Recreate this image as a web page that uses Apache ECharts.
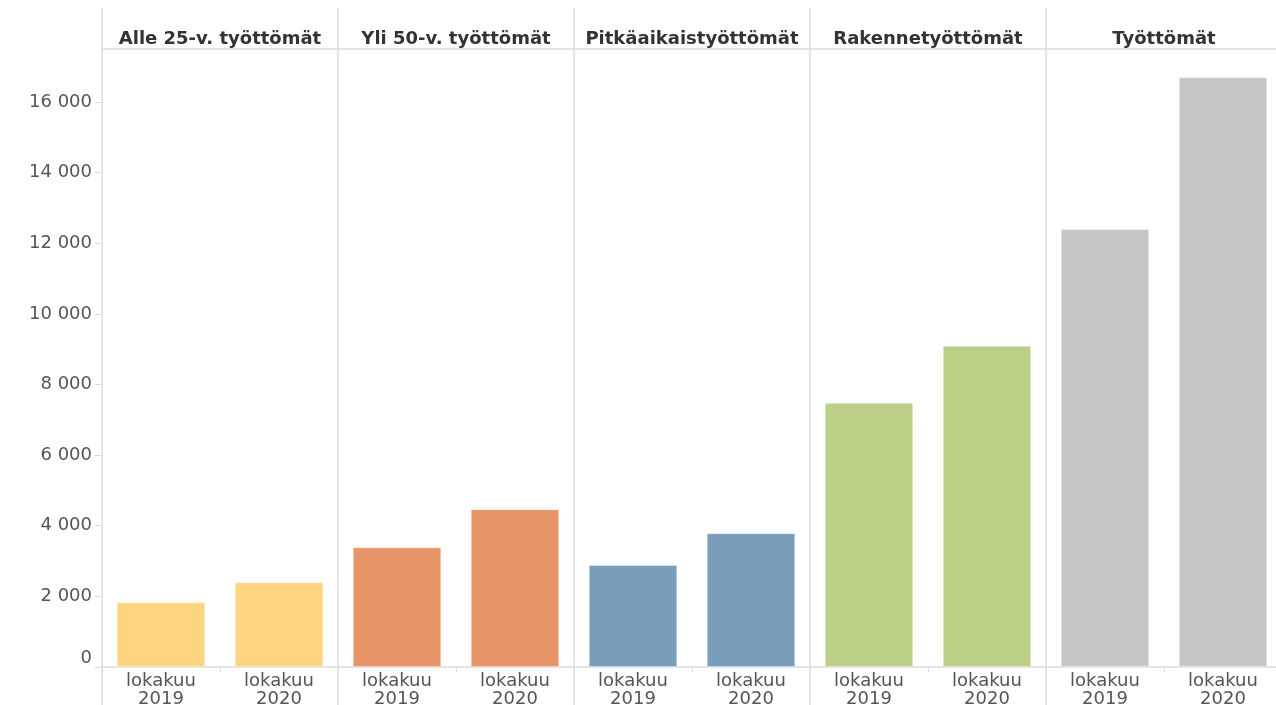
<!DOCTYPE html>
<html>
<head>
<meta charset="utf-8">
<script src="https://cdn.jsdelivr.net/npm/echarts@6/dist/echarts.min.js"></script>
<style>
  html, body { margin: 0; padding: 0; background: #fff; }
  #chart { width: 1276px; height: 705px; }
</style>
</head>
<body>
<div id="chart"></div>
<script>
// panels and periods
var panels = ['Alle 25-v. työttömät', 'Yli 50-v. työttömät', 'Pitkäaikaistyöttömät', 'Rakennetyöttömät', 'Työttömät'];
var periods = ['lokakuu\n2019', 'lokakuu\n2020'];
var values2019 = [1830, 3390, 2890, 7480, 12400];
var values2020 = [2400, 4470, 3790, 9100, 16700];
var panelColors = ['#fdd47f', '#e8956a', '#7a9eba', '#bbcf87', '#c6c6c6'];
var yTicks = [0, 2000, 4000, 6000, 8000, 10000, 12000, 14000, 16000];

var categories = [];
var barData = [];
panels.forEach(function (p, i) {
  categories.push(p + '|' + periods[0]);
  categories.push(p + '|' + periods[1]);
  barData.push({ value: values2019[i], itemStyle: { color: panelColors[i] } });
  barData.push({ value: values2020[i], itemStyle: { color: panelColors[i] } });
});

var lineColor = '#dcdcdc';
var font = 'DejaVu Sans, Liberation Sans, Arial, sans-serif';

var chart = echarts.init(document.getElementById('chart'));
chart.setOption({
  animation: false,
  grid: [
    { left: 102, right: -6, top: 49, bottom: 38, outerBoundsMode: 'none' },
    { left: 102, right: -6, top: 8, bottom: 0, outerBoundsMode: 'none' }
  ],
  xAxis: [
    {
      type: 'category',
      gridIndex: 0,
      data: categories,
      axisLine: { lineStyle: { color: lineColor, width: 1.5 } },
      axisTick: { show: true, interval: 0, length: 5, lineStyle: { color: lineColor } },
      axisLabel: {
        interval: 0,
        color: '#555',
        fontFamily: font,
        fontSize: 18,
        lineHeight: 18,
        margin: 5,
        formatter: function (v) { return v.split('|')[1]; }
      }
    },
    {
      type: 'category',
      gridIndex: 1,
      position: 'top',
      data: panels,
      axisLine: { show: false },
      axisTick: { show: false },
      axisLabel: {
        interval: 0,
        inside: true,
        margin: 22,
        color: '#333',
        fontFamily: font,
        fontWeight: 'bold',
        fontSize: 18
      },
      splitLine: { show: true, interval: 0, lineStyle: { color: lineColor, width: 1.5 } }
    },
    {
      type: 'category',
      gridIndex: 0,
      position: 'top',
      data: categories,
      axisLine: { show: true, lineStyle: { color: lineColor, width: 1.5 } },
      axisTick: { show: false },
      axisLabel: { show: false }
    }
  ],
  yAxis: [
    {
      type: 'value',
      gridIndex: 0,
      min: yTicks[0],
      max: 17500,
      interval: 2000,
      axisLine: { show: false },
      axisTick: { show: true, length: 7, lineStyle: { color: lineColor } },
      splitLine: { show: false },
      axisLabel: {
        showMaxLabel: false,
        margin: 10,
        color: '#555',
        fontFamily: font,
        fontSize: 18,
        formatter: function (v) {
          if (v === 0) return '{z|0}';
          return String(v).replace(/\B(?=(\d{3})+(?!\d))/g, ' ');
        },
        rich: { z: { fontSize: 18, color: '#555', fontFamily: font, padding: [0, 0, 18, 0] } }
      }
    },
    { type: 'value', gridIndex: 1, show: false }
  ],
  series: [
    {
      type: 'bar',
      xAxisIndex: 0,
      yAxisIndex: 0,
      data: barData,
      barCategoryGap: '25%',
      itemStyle: { borderColor: 'rgba(255,255,255,0.35)', borderWidth: 1 }
    }
  ]
});
</script>
</body>
</html>
